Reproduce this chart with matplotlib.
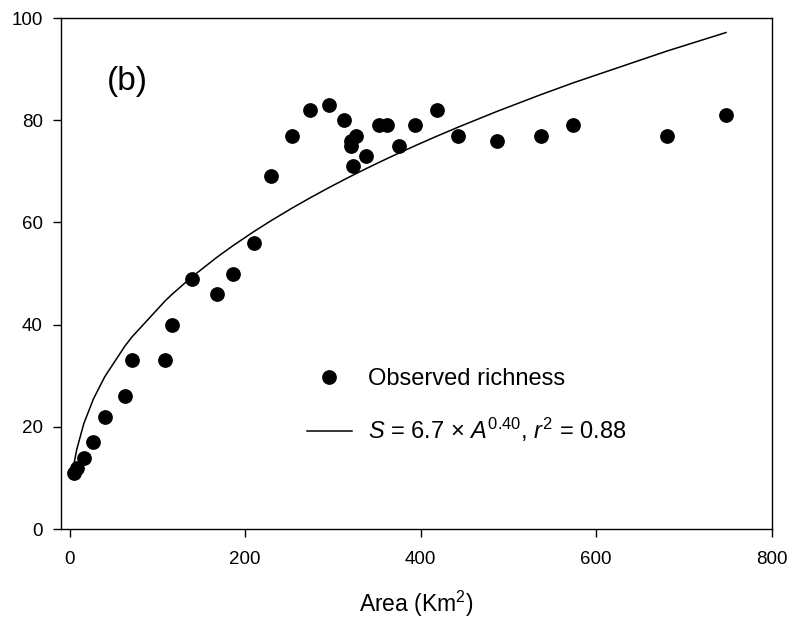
import matplotlib
matplotlib.use('Agg')
import matplotlib.pyplot as plt
import numpy as np

# font setup (Arial-like)
plt.rcParams.update({
    'font.family': ['Liberation Sans', 'DejaVu Sans'],
    'mathtext.fontset': 'custom',
    'mathtext.rm': 'Liberation Sans',
    'mathtext.it': 'Liberation Sans:italic',
    'mathtext.bf': 'Liberation Sans:bold',
})

# observed data: area (km2) vs species richness
area = [5, 8, 16, 27, 40, 63, 71, 109, 117, 139, 168, 186, 210, 229, 253,
        274, 295, 313, 320, 320, 323, 326, 338, 353, 362, 375, 394, 418,
        443, 487, 537, 574, 681, 748]
richness = [11, 12, 14, 17, 22, 26, 33, 33, 40, 49, 46, 50, 56, 69, 77,
            82, 83, 80, 76, 75, 71, 77, 73, 79, 79, 75, 79, 82,
            77, 76, 77, 79, 77, 81]

# power-law fit S = c * A^z (as drawn)
fit_c = 6.75
fit_z = 0.403

fig = plt.figure(figsize=(7.9, 6.21), dpi=100)
ax = fig.add_axes([0.0772, 0.148, 0.8996, 0.823])

a_sorted = np.sort(np.array(area, dtype=float))
ax.plot(a_sorted, fit_c * a_sorted ** fit_z, color='black', lw=1.1,
        label=r'$\mathit{S}$ = 6.7 × $\mathit{A}^{\mathrm{0.40}}$, $\mathit{r}^{\mathrm{2}}$ = 0.88')
ax.plot(area, richness, 'o', color='black', markersize=9.6, ls='none',
        label='Observed richness')

ax.set_xlim(-10, 800)
ax.set_ylim(0, 100)
ax.set_xticks(np.arange(0, 801, 200))
ax.set_yticks(np.arange(0, 101, 20))
ax.tick_params(direction='out', length=6, width=1, labelsize=13.5)
ax.tick_params(axis='x', pad=9.5)
ax.tick_params(axis='y', pad=7)
for s in ax.spines.values():
    s.set_linewidth(1)

ax.set_xlabel('Area (Km$^{\\mathrm{2}}$)', fontsize=16.5, labelpad=15)

ax.text(42, 87.5, '(b)', fontsize=24, ha='left', va='center')

handles, labels = ax.get_legend_handles_labels()
ax.legend(handles[::-1], labels[::-1], loc='center left',
          bbox_to_anchor=(0.388, 0.346), bbox_transform=fig.transFigure,
          frameon=False, fontsize=17, handlelength=1.93, handletextpad=0.67,
          labelspacing=1.12, borderpad=0, borderaxespad=0)

fig.savefig('out.png', dpi=100)
